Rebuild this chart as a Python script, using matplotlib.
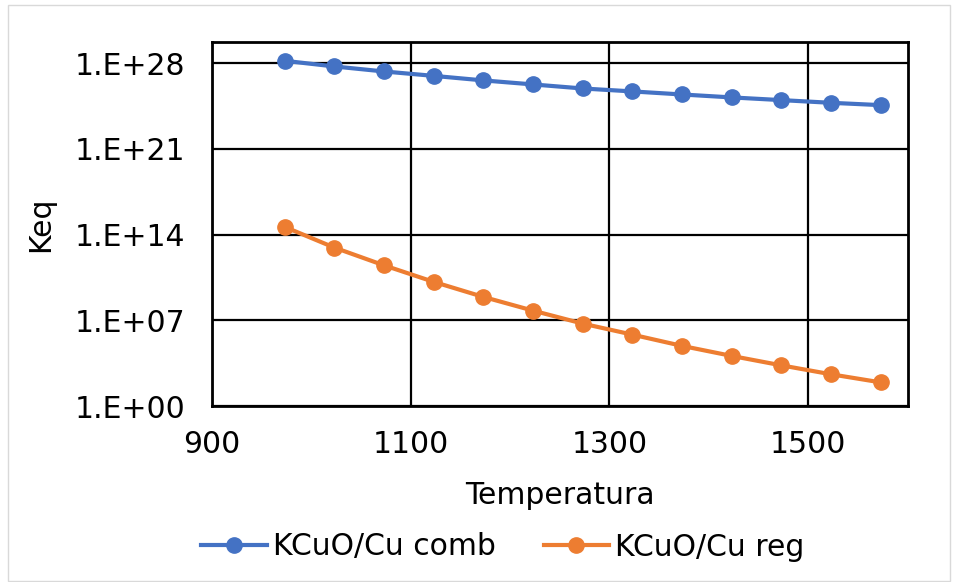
import matplotlib
matplotlib.use("Agg")
import matplotlib.pyplot as plt
from matplotlib.patches import Rectangle
from matplotlib.ticker import FixedLocator, FuncFormatter
import numpy as np

# temperatures (K) and log10 of Keq
temperatura = [973, 1023, 1073, 1123, 1173, 1223, 1273, 1323, 1373, 1423, 1473, 1523, 1573]
log_comb = [28.19, 27.73, 27.32, 26.96, 26.59, 26.26, 25.93, 25.69, 25.44, 25.20, 24.98, 24.76, 24.57]
log_reg = [14.63, 12.94, 11.49, 10.14, 8.91, 7.79, 6.73, 5.83, 4.91, 4.09, 3.32, 2.59, 1.93]

labels = ["KCuO/Cu comb", "KCuO/Cu reg"]
colors = ["#4472C4", "#ED7D31"]

x_ticks = [900, 1100, 1300, 1500]
y_ticks = [1e0, 1e7, 1e14, 1e21, 1e28]

plt.rcParams["font.family"] = ["DejaVu Sans"]
plt.rcParams["font.size"] = 21.5

fig = plt.figure(figsize=(9.58, 5.82), dpi=100)
ax = fig.add_axes([212 / 958, 1 - 406 / 582, (907.5 - 212) / 958, (406 - 41.7) / 582])

for logs, lab, col in zip([log_comb, log_reg], labels, colors):
    ax.plot(temperatura, 10.0 ** np.array(logs), color=col, lw=3,
            marker="o", ms=11, label=lab, zorder=3)

ax.set_yscale("log")
ax.set_xlim(900, 1600)
ax.set_ylim(1e0, 10 ** 29.75)
ax.xaxis.set_major_locator(FixedLocator(x_ticks))
ax.yaxis.set_major_locator(FixedLocator(y_ticks))
ax.yaxis.set_minor_locator(FixedLocator([]))
ax.yaxis.set_major_formatter(FuncFormatter(lambda v, p: "1.E+%02d" % round(np.log10(v))))
ax.grid(True, color="black", lw=1.6)
ax.tick_params(length=0)
ax.tick_params(axis="y", pad=19)
ax.tick_params(axis="x", pad=17)
for s in ax.spines.values():
    s.set_linewidth(2)

ax.set_xlabel("Temperatura", labelpad=16)
ax.set_ylabel("Keq", labelpad=14)

fig.legend(loc="center", bbox_to_anchor=(503 / 958, 1 - 547 / 582), ncol=2,
           frameon=False, handlelength=2.2, handletextpad=0.2, columnspacing=1.6)

fig.add_artist(Rectangle((8 / 958, 0.002), 1 - 16 / 958, 0.99, transform=fig.transFigure,
                         fill=False, edgecolor="#d9d9d9", lw=1))

fig.savefig("out.png", dpi=100)
